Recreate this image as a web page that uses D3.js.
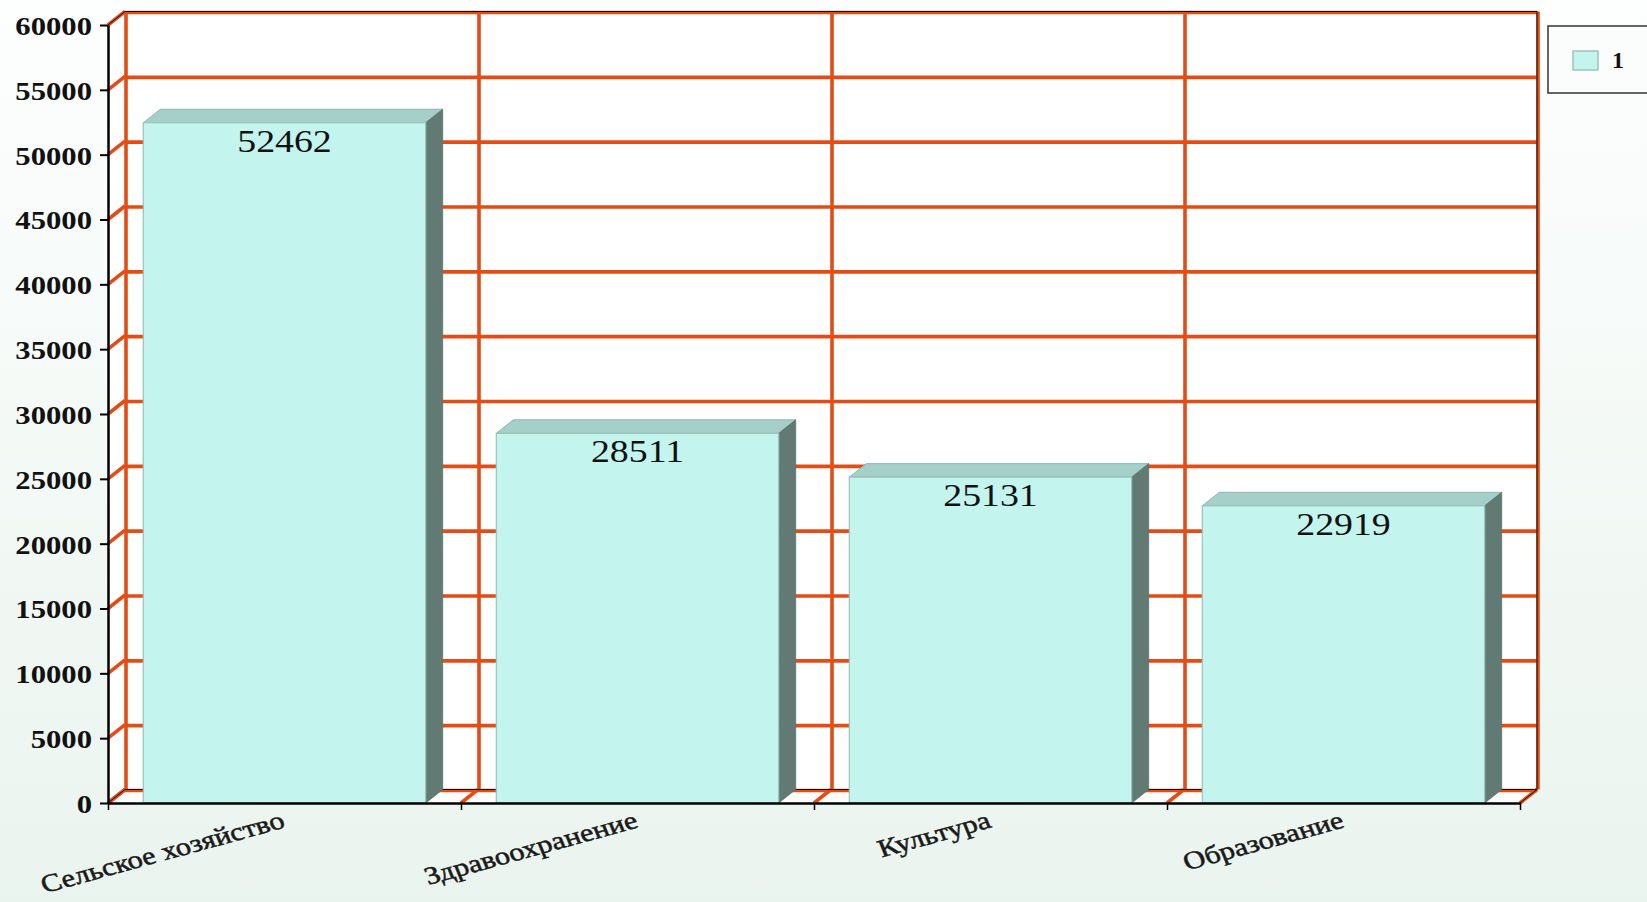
<!DOCTYPE html>
<html>
<head>
<meta charset="utf-8">
<script src="https://cdn.jsdelivr.net/npm/d3@7"></script>
<style>
  html, body { margin: 0; padding: 0; overflow: hidden; }
  svg { display: block; }
</style>
</head>
<body>
<svg id="chart" width="1647" height="902"></svg>
<script>
// data
const categories = ['Сельское хозяйство', 'Здравоохранение', 'Культура', 'Образование'];
const values = [52462, 28511, 25131, 22919];
const yTicks = [0, 5000, 10000, 15000, 20000, 25000, 30000, 35000, 40000, 45000, 50000, 55000, 60000];
const legendLabels = ['1'];

const svg = d3.select('#chart');
const W = 1647, H = 902;

const pLeft = 108, pRight = 1520, pTop = 25, pBottom = 803;
const dx = 17, dy = 13.5; // depth of the 3d box
const grid = '#e44c16';

const x = d3.scaleBand().domain(categories).range([pLeft, pRight])
    .paddingInner(0.2).paddingOuter(0.1);
const xb = d3.scaleLinear().domain([0, categories.length]).range([pLeft, pRight]);
const y = d3.scaleLinear().domain([0, 60000]).range([pBottom, pTop]);

// background
const defs = svg.append('defs');
const bg = defs.append('linearGradient').attr('id', 'bg')
    .attr('x1', 0).attr('y1', 0).attr('x2', 0).attr('y2', 1);
bg.append('stop').attr('offset', '0%').attr('stop-color', '#fdfefe');
bg.append('stop').attr('offset', '100%').attr('stop-color', '#eaf4ee');
svg.append('rect').attr('width', W).attr('height', H).attr('fill', 'url(#bg)');

// walls
const walls = svg.append('g');
walls.append('rect')
    .attr('x', pLeft + dx).attr('y', pTop - dy)
    .attr('width', pRight - pLeft).attr('height', pBottom - pTop)
    .attr('fill', '#fff');
walls.append('polygon')
    .attr('points', [[pLeft, pTop], [pLeft + dx, pTop - dy], [pLeft + dx, pBottom - dy], [pLeft, pBottom]].join(' '))
    .attr('fill', '#fff');
walls.append('polygon')
    .attr('points', [[pLeft, pBottom], [pLeft + dx, pBottom - dy], [pRight + dx, pBottom - dy], [pRight, pBottom]].join(' '))
    .attr('fill', '#fff');

// grid lines
const gl = svg.append('g').attr('stroke', grid).attr('stroke-width', 3.6).attr('fill', 'none');
yTicks.forEach(v => {
    gl.append('line')
        .attr('x1', pLeft + dx).attr('x2', pRight + dx)
        .attr('y1', y(v) - dy + 1).attr('y2', y(v) - dy + 1);
    gl.append('line')
        .attr('x1', pLeft).attr('y1', y(v))
        .attr('x2', pLeft + dx).attr('y2', y(v) - dy);
});
d3.range(categories.length + 1).forEach(i => {
    gl.append('line')
        .attr('x1', xb(i) + dx + 1).attr('x2', xb(i) + dx + 1)
        .attr('y1', pTop - dy).attr('y2', pBottom - dy);
    gl.append('line')
        .attr('x1', xb(i)).attr('y1', pBottom)
        .attr('x2', xb(i) + dx).attr('y2', pBottom - dy);
});

// thin black outer edges of the box
const frame = svg.append('g').attr('stroke', '#111').attr('stroke-width', 1).attr('fill', 'none');
frame.append('path').attr('d', `M${pLeft},${pTop}L${pLeft + dx},${pTop - dy}L${pRight + dx},${pTop - dy}L${pRight + dx},${pBottom - dy}L${pLeft + dx},${pBottom - dy}L${pLeft},${pBottom}`);
frame.append('path').attr('d', `M${pRight},${pBottom}L${pRight + dx},${pBottom - dy}`);

// bars
const bw = x.bandwidth();
const bars = svg.append('g').selectAll('g').data(categories).join('g');
bars.append('polygon')
    .attr('points', (d, i) => {
        const x0 = x(d), yv = y(values[i]);
        return [[x0, yv], [x0 + dx, yv - dy], [x0 + bw + dx, yv - dy], [x0 + bw, yv]].join(' ');
    })
    .attr('fill', '#a5d0ca').attr('stroke', '#8fb6b0').attr('stroke-width', 1);
bars.append('polygon')
    .attr('points', (d, i) => {
        const x0 = x(d) + bw, yv = y(values[i]);
        return [[x0, yv], [x0 + dx, yv - dy], [x0 + dx, pBottom - dy], [x0, pBottom]].join(' ');
    })
    .attr('fill', '#627a74').attr('stroke', '#5a716b').attr('stroke-width', 0.8);
bars.append('rect')
    .attr('x', d => x(d)).attr('width', bw)
    .attr('y', (d, i) => y(values[i]))
    .attr('height', (d, i) => pBottom - y(values[i]))
    .attr('fill', '#c4f4ee').attr('stroke', '#98c2bc').attr('stroke-width', 1.2);

// value labels
bars.append('text')
    .attr('transform', (d, i) => `translate(${x(d) + bw / 2},${y(values[i]) + 29}) scale(1.22,1)`)
    .attr('text-anchor', 'middle')
    .attr('font-family', 'Liberation Serif, Times New Roman, serif')
    .attr('font-size', 31)
    .attr('fill', '#111')
    .text((d, i) => values[i]);

// y axis
const yAxis = svg.append('g')
    .attr('transform', `translate(${pLeft},0)`)
    .call(d3.axisLeft(y).tickValues(yTicks).tickSize(8).tickSizeOuter(0).tickFormat(d3.format('d')));
yAxis.select('.domain').attr('stroke', '#000').attr('stroke-width', 2.5);
yAxis.selectAll('.tick line').attr('stroke', '#000').attr('stroke-width', 2);
yAxis.selectAll('.tick text')
    .attr('x', -16 / 1.18)
    .attr('dy', '0.36em')
    .attr('transform', 'scale(1.18,1)')
    .attr('font-family', 'Liberation Serif, Times New Roman, serif')
    .attr('font-weight', 'bold')
    .attr('font-size', 26)
    .attr('fill', '#111');

// x axis
const xAxis = svg.append('g')
    .attr('transform', `translate(0,${pBottom})`)
    .call(d3.axisBottom(xb).ticks(categories.length).tickSize(7).tickSizeOuter(0).tickFormat(''));
xAxis.select('.domain').attr('stroke', '#000').attr('stroke-width', 2.5);
xAxis.selectAll('.tick line').attr('stroke', '#000').attr('stroke-width', 1.5);

// category labels
svg.append('g').selectAll('text').data(categories).join('text')
    .attr('transform', d => `translate(${x(d) + bw / 2 + 2},${pBottom + 24}) scale(1.22,1) rotate(-18.5)`)
    .attr('text-anchor', 'end')
    .attr('font-family', 'Liberation Serif, Times New Roman, serif')
    .attr('font-size', 25)
    .attr('fill', '#1a1a1a')
    .attr('stroke', '#1a1a1a')
    .attr('stroke-width', 0.5)
    .text(d => d);

// legend
const lg = svg.append('g');
lg.append('rect')
    .attr('x', 1548).attr('y', 26).attr('width', 120).attr('height', 67)
    .attr('fill', '#fbfdfc').attr('stroke', '#333').attr('stroke-width', 1.5);
lg.selectAll('g').data(legendLabels).join('g').each(function (d, i) {
    const g = d3.select(this);
    g.append('rect')
        .attr('x', 1573).attr('y', 51 + i * 30).attr('width', 25).attr('height', 19)
        .attr('fill', '#c4f4ee').attr('stroke', '#9cc4be').attr('stroke-width', 1.5);
    g.append('text')
        .attr('x', 1612).attr('y', 68 + i * 30)
        .attr('font-family', 'Liberation Serif, Times New Roman, serif')
        .attr('font-weight', 'bold')
        .attr('font-size', 24)
        .attr('fill', '#111')
        .text(d);
});
</script>
</body>
</html>
